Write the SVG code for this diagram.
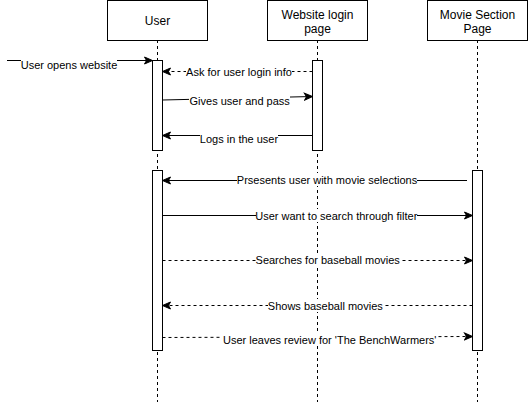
<svg xmlns="http://www.w3.org/2000/svg" width="528" height="402" viewBox="0 0 528 402">
<defs>
<marker id="arr" markerUnits="userSpaceOnUse" markerWidth="10" markerHeight="10" viewBox="0 0 10 10" refX="9" refY="5" orient="auto">
<path d="M1,1.5 L9,5 L1,8.5 L3,5 Z" fill="#000" stroke="#000" stroke-width="1"/>
</marker>
</defs>
<style>
.box{fill:#fff;stroke:#000;stroke-width:1}
.life{stroke:#000;stroke-width:1;stroke-dasharray:3 3;fill:none}
.act{fill:#fff;stroke:#000;stroke-width:1}
.msg{stroke:#000;stroke-width:1;fill:none;marker-end:url(#arr)}
.dash{stroke-dasharray:3 3}
.hd{font-family:"Liberation Sans",Arial,sans-serif;font-size:12px;text-anchor:middle;fill:#000}
.lb{font-family:"Liberation Sans",Arial,sans-serif;font-size:11px;text-anchor:middle;fill:#000}
.bg{fill:#fff}
</style>
<g id="lifelines">
<line class="life" x1="157.5" y1="40" x2="157.5" y2="402"/>
<line class="life" x1="317.5" y1="40" x2="317.5" y2="402"/>
<line class="life" x1="477.5" y1="40" x2="477.5" y2="402"/>
</g>
<g id="node-user">
<rect class="box" x="107.5" y="0.5" width="100" height="40"/>
<text class="hd" x="157.5" y="24.5">User</text>
</g>
<g id="node-login">
<rect class="box" x="267.5" y="0.5" width="100" height="40"/>
<text class="hd" x="317.5" y="18.5">Website login</text>
<text class="hd" x="317.5" y="33">page</text>
</g>
<g id="node-movie">
<rect class="box" x="427.5" y="0.5" width="100" height="40"/>
<text class="hd" x="477.5" y="18.5">Movie Section</text>
<text class="hd" x="477.5" y="33">Page</text>
</g>
<g id="act-user-1"><rect class="act" x="152.5" y="60.5" width="10" height="90"/></g>
<g id="act-login-1"><rect class="act" x="312.5" y="60.5" width="10" height="90"/></g>
<g id="act-user-2"><rect class="act" x="152.5" y="170.5" width="10" height="180"/></g>
<g id="act-movie-1"><rect class="act" x="472.5" y="170.5" width="10" height="180"/></g>
<g id="connectors">
<line class="msg" x1="7" y1="60.5" x2="152.5" y2="60.5"/>
<line class="msg dash" x1="312.5" y1="71.5" x2="162.5" y2="71.5"/>
<line class="msg" x1="162.5" y1="100" x2="312.5" y2="96.5"/>
<line class="msg" x1="312.5" y1="135.5" x2="162.5" y2="135.5"/>
<line class="msg" x1="467" y1="180.5" x2="162.5" y2="180.5"/>
<line class="msg" x1="162.5" y1="215.5" x2="472.5" y2="215.5"/>
<line class="msg dash" x1="162.5" y1="260.5" x2="472.5" y2="260.5"/>
<line class="msg dash" x1="472.5" y1="305.5" x2="162.5" y2="305.5"/>
<line class="msg dash" x1="162.5" y1="337.5" x2="472.5" y2="336.5"/>
</g>
<g id="labels">
<rect class="bg" x="21" y="58" width="96" height="13"/>
<text class="lb" x="69" y="69">User opens website</text>
<rect class="bg" x="186" y="65" width="106" height="13"/>
<text class="lb" x="239" y="76">Ask for user login info</text>
<rect class="bg" x="189" y="94" width="101" height="13"/>
<text class="lb" x="239.7" y="105">Gives user and pass</text>
<rect class="bg" x="200" y="132" width="78" height="13"/>
<text class="lb" x="239" y="142.5">Logs in the user</text>
<rect class="bg" x="237" y="173" width="180" height="13"/>
<text class="lb" x="327" y="183.5">Prsesents user with movie selections</text>
<rect class="bg" x="256" y="209" width="161" height="13"/>
<text class="lb" x="336.3" y="220">User want to search through filter</text>
<rect class="bg" x="256" y="254" width="144" height="13"/>
<text class="lb" x="327.7" y="264">Searches for baseball movies</text>
<rect class="bg" x="268" y="299" width="115" height="13"/>
<text class="lb" x="325.3" y="309.5">Shows baseball movies</text>
<rect class="bg" x="222" y="333" width="215" height="13"/>
<text class="lb" x="329.7" y="344">User leaves review for 'The BenchWarmers'</text>
</g>
</svg>
